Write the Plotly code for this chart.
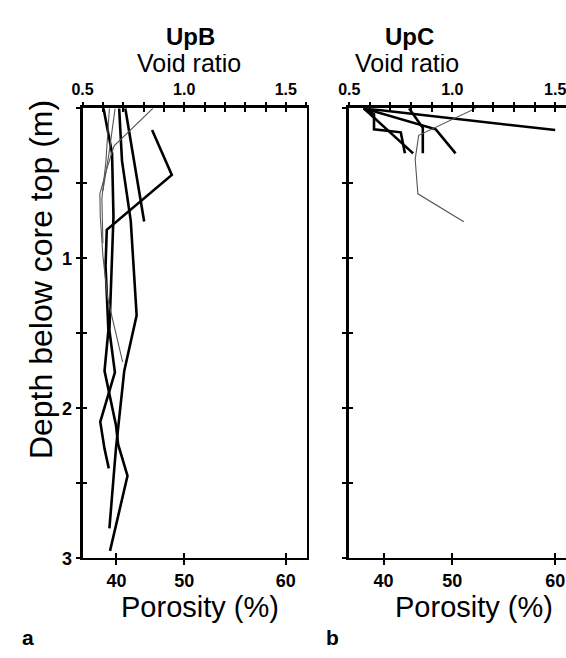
import plotly.graph_objects as go

# ---- UpB profiles: void ratio vs depth below core top (m) ----
UPB_1_DEPTH = [0.0, 0.30, 0.72, 1.48, 1.76, 2.09, 2.27, 2.40]
UPB_1_VOID = [0.603, 0.645, 0.652, 0.632, 0.659, 0.587, 0.608, 0.629]

UPB_2_DEPTH = [0.144, 0.444, 0.81, 1.05, 1.48, 1.75, 2.11, 2.24, 2.45, 2.95]
UPB_2_VOID = [0.842, 0.939, 0.619, 0.613, 0.627, 0.608, 0.664, 0.675, 0.721, 0.635]

UPB_3_DEPTH = [0.0, 0.35, 0.75, 1.38, 1.75, 2.27, 2.80]
UPB_3_VOID = [0.680, 0.694, 0.737, 0.766, 0.705, 0.664, 0.632]

UPB_4_DEPTH = [0.0, 0.755]
UPB_4_VOID = [0.710, 0.803]

UPB_5_DEPTH = [0.0, 0.25, 0.40, 0.57, 0.72, 0.985, 1.27, 1.50, 1.69]
UPB_5_VOID = [0.846, 0.655, 0.620, 0.585, 0.587, 0.600, 0.624, 0.664, 0.697]

UPB_6_DEPTH = [0.0, 0.35, 0.60, 0.90]
UPB_6_VOID = [0.632, 0.615, 0.595, 0.600]

UPB_7_DEPTH = [0.0, 0.30, 0.55]
UPB_7_VOID = [0.660, 0.630, 0.600]

# ---- UpC profiles ----
UPC_1_DEPTH = [0.0, 0.145]
UPC_1_VOID = [0.57, 1.50]

UPC_2_DEPTH = [0.0, 0.13, 0.30]
UPC_2_VOID = [0.79, 0.857, 0.857]

UPC_3_DEPTH = [0.0, 0.14, 0.30]
UPC_3_VOID = [0.57, 0.92, 1.016]

UPC_4_DEPTH = [0.0, 0.04, 0.14, 0.16, 0.30]
UPC_4_VOID = [0.57, 0.62, 0.62, 0.75, 0.77]

UPC_5_DEPTH = [0.0, 0.30]
UPC_5_VOID = [0.57, 0.81]

UPC_6_DEPTH = [0.0, 0.18, 0.34, 0.57, 0.756]
UPC_6_VOID = [1.114, 0.837, 0.820, 0.833, 1.056]

# ---- axis ticks ----
VOID_TICKS = [0.5, 0.6, 0.7, 0.8, 0.9, 1.0, 1.1, 1.2, 1.3, 1.4, 1.5, 1.6]
VOID_LABELS = ["0.5", "", "", "", "", "1.0", "", "", "", "", "1.5", ""]
POROSITY_TICKS = [40, 50, 60]
DEPTH_TICKS = [0, 0.5, 1, 1.5, 2, 2.5, 3]
DEPTH_LABELS = ["", "", "1", "", "2", "", "3"]

THICK = dict(color="black", width=2.6)
THIN = dict(color="#555555", width=1.1)

W, H = 566, 658
FONT = "Liberation Sans, Arial, sans-serif"


def px(x):
    return x / W


def py(y):
    return 1 - y / H


# void ratio e = n / (100 - n) for porosity n in %
por_pos = [n / (100 - n) for n in POROSITY_TICKS]
por_text = [str(n) for n in POROSITY_TICKS]

fig = go.Figure()

upb = [
    (UPB_1_VOID, UPB_1_DEPTH, THICK), (UPB_2_VOID, UPB_2_DEPTH, THICK),
    (UPB_3_VOID, UPB_3_DEPTH, THICK), (UPB_4_VOID, UPB_4_DEPTH, THICK),
    (UPB_5_VOID, UPB_5_DEPTH, THIN), (UPB_6_VOID, UPB_6_DEPTH, THIN),
    (UPB_7_VOID, UPB_7_DEPTH, THIN),
]
upc = [
    (UPC_1_VOID, UPC_1_DEPTH, THICK), (UPC_2_VOID, UPC_2_DEPTH, THICK),
    (UPC_3_VOID, UPC_3_DEPTH, THICK), (UPC_4_VOID, UPC_4_DEPTH, THICK),
    (UPC_5_VOID, UPC_5_DEPTH, THICK), (UPC_6_VOID, UPC_6_DEPTH, THIN),
]
for v, d, ln in upb:
    fig.add_trace(go.Scatter(x=v, y=d, mode="lines", line=ln, xaxis="x", yaxis="y",
                             showlegend=False, cliponaxis=False, hoverinfo="skip"))
for v, d, ln in upc:
    fig.add_trace(go.Scatter(x=v, y=d, mode="lines", line=ln, xaxis="x2", yaxis="y2",
                             showlegend=False, cliponaxis=False, hoverinfo="skip"))

# empty traces so that the overlay axes (porosity scale, crossing ticks, frame) get drawn
for xa, ya in [("x3", "y"), ("x5", "y"), ("x7", "y"), ("x", "y3"), ("x", "y5"),
               ("x4", "y2"), ("x6", "y2"), ("x8", "y2"), ("x2", "y4")]:
    fig.add_trace(go.Scatter(x=[], y=[], mode="lines", xaxis=xa, yaxis=ya,
                             showlegend=False, hoverinfo="skip"))

ydom = [py(567), py(110)]
dom_a = [px(73), px(302)]
dom_b = [px(345), 1.0]
rng_a = [0.5, 0.5 + (302 - 73.3) / 207]
rng_b = [0.5, 0.5 + (566 - 345) / 210]
yrng = [3, 0]

tickfont_top = dict(family=FONT, size=16, color="black", weight="bold")
tickfont_bot = dict(family=FONT, size=18, color="black", weight="bold")

common = dict(showgrid=False, zeroline=False, fixedrange=True)


def top_axis(dom, rng, anchor):
    return dict(domain=dom, range=rng, autorange=False, anchor=anchor, side="top",
                tickmode="array", tickvals=VOID_TICKS, ticktext=VOID_LABELS,
                ticks="outside", ticklen=4, tickwidth=1.6, tickcolor="black",
                showline=True, linewidth=2.6, linecolor="black", tickfont=tickfont_top,
                ticklabeloverflow="allow", **common)


def top_inner(over, rng, anchor):
    return dict(overlaying=over, range=rng, autorange=False, anchor=anchor, side="top",
                tickmode="array", tickvals=VOID_TICKS, ticks="inside", ticklen=4,
                tickwidth=1.6, tickcolor="black", showticklabels=False, showline=False,
                **common)


def bottom_axis(over, rng, anchor):
    return dict(overlaying=over, range=rng, autorange=False, anchor=anchor, side="bottom",
                tickmode="array", tickvals=por_pos, ticktext=por_text, ticks="outside",
                ticklen=5, tickwidth=1.8, tickcolor="black", showline=True,
                linewidth=1.6, linecolor="black", tickfont=tickfont_bot,
                ticklabeloverflow="allow", **common)


def bottom_inner(over, rng, anchor):
    return dict(overlaying=over, range=rng, autorange=False, anchor=anchor, side="bottom",
                tickmode="array", tickvals=por_pos, ticks="inside", ticklen=5,
                tickwidth=1.8, tickcolor="black", showticklabels=False, showline=False,
                **common)


def left_axis(anchor, labels):
    return dict(domain=ydom, range=yrng, autorange=False, anchor=anchor, side="left",
                tickmode="array", tickvals=DEPTH_TICKS, ticktext=labels,
                showticklabels=labels is not None, ticks="outside", ticklen=4,
                tickwidth=1.8, tickcolor="black", showline=True, linewidth=2.8,
                linecolor="black", tickfont=tickfont_bot, **common)


def left_inner(over, anchor):
    return dict(overlaying=over, range=yrng, autorange=False, anchor=anchor, side="left",
                tickmode="array", tickvals=DEPTH_TICKS, ticks="inside", ticklen=4,
                tickwidth=1.8, tickcolor="black", showticklabels=False,
                showline=False, **common)


fig.update_layout(
    width=W, height=H,
    margin=dict(l=0, r=0, t=0, b=0),
    paper_bgcolor="white", plot_bgcolor="white",
    font=dict(family=FONT, color="black"),
    xaxis=top_axis(dom_a, rng_a, "y"),
    xaxis2=top_axis(dom_b, rng_b, "y2"),
    xaxis3=top_inner("x", rng_a, "y"),
    xaxis4=top_inner("x2", rng_b, "y2"),
    xaxis5=bottom_axis("x", rng_a, "y"),
    xaxis6=bottom_axis("x2", rng_b, "y2"),
    xaxis7=bottom_inner("x", rng_a, "y"),
    xaxis8=bottom_inner("x2", rng_b, "y2"),
    yaxis=left_axis("x", DEPTH_LABELS),
    yaxis2=left_axis("x2", None),
    yaxis3=left_inner("y", "x"),
    yaxis4=left_inner("y2", "x2"),
    # right-hand frame line of panel a
    yaxis5=dict(overlaying="y", range=yrng, autorange=False, anchor="x", side="right",
                ticks="", showticklabels=False, showline=True, linewidth=1.8,
                linecolor="black", **common),
)

ann = [
    ("<b>UpB</b>", 183, 37, 24, 0, None),
    ("Void ratio", 182, 64, 25, 0, 18),
    ("<b>UpC</b>", 406, 37, 24, 0, None),
    ("Void ratio", 404, 64, 25, 0, 18),
    ("Porosity (%)", 193, 616, 29, 0, None),
    ("Porosity (%)", 472, 616, 29, 0, None),
    ("Depth below core top (m)", 30, 284, 32, -90, None),
    ("<b>a</b>", 17, 647, 21, 0, None),
    ("<b>b</b>", 328, 647, 21, 0, None),
]
for text, x, y, size, ang, hgt in ann:
    kw = dict(height=hgt) if hgt else {}
    fig.add_annotation(text=text, x=px(x), y=py(y), xref="paper", yref="paper",
                       xanchor="center", yanchor="middle", showarrow=False,
                       textangle=ang, font=dict(family=FONT, size=size, color="black"),
                       **kw)

fig.write_html("out.html")
